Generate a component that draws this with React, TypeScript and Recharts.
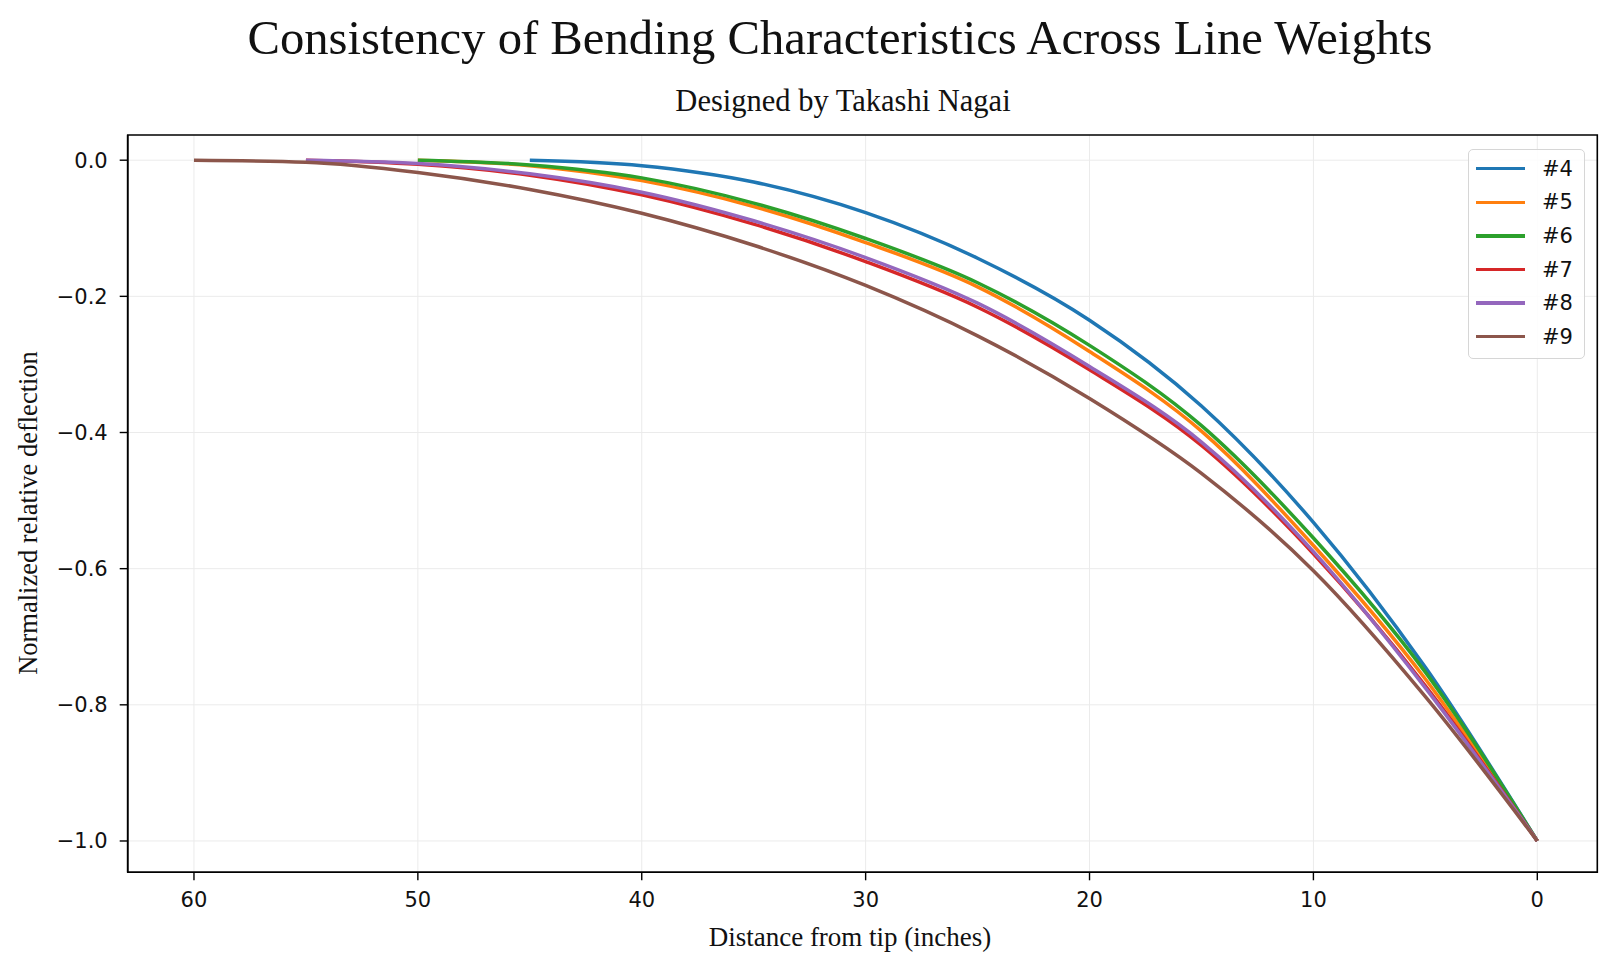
import React from "react";
import { LineChart, Line, XAxis, YAxis, CartesianGrid, Legend, ReferenceArea } from "recharts";

const distances = [60, 55, 50, 45, 40, 35, 30, 25, 20, 15, 10, 5, 0];
const line4 = [null, null, null, 0, -0.008, -0.032, -0.077, -0.144, -0.235, -0.361, -0.532, -0.745, -1];
const line5 = [null, null, 0, -0.008, -0.03, -0.068, -0.121, -0.186, -0.281, -0.398, -0.566, -0.762, -1];
const line6 = [null, null, 0, -0.007, -0.026, -0.063, -0.115, -0.18, -0.272, -0.39, -0.555, -0.752, -1];
const line7 = [null, 0, -0.006, -0.022, -0.051, -0.094, -0.149, -0.216, -0.308, -0.419, -0.578, -0.772, -1];
const line8 = [null, 0, -0.005, -0.02, -0.047, -0.089, -0.143, -0.21, -0.303, -0.414, -0.575, -0.775, -1];
const line9 = [0, -0.003, -0.018, -0.043, -0.078, -0.125, -0.184, -0.258, -0.35, -0.46, -0.603, -0.788, -1];

const seriesNames = ["#4", "#5", "#6", "#7", "#8", "#9"];
const seriesKeys = ["s4", "s5", "s6", "s7", "s8", "s9"];
const seriesValues = [line4, line5, line6, line7, line8, line9];
const seriesColors = ["#1f77b4", "#ff7f0e", "#2ca02c", "#d62728", "#9467bd", "#8c564b"];

const xTicks = [60, 50, 40, 30, 20, 10, 0];
const yTicks = [0, -0.2, -0.4, -0.6, -0.8, -1.0];
const xDomain = [-2.68, 62.96];
const yDomain = [-1.046, 0.037];

const data = distances.map((d, i) => {
  const row: Record<string, number | null> = { d };
  seriesKeys.forEach((k, j) => {
    row[k] = seriesValues[j][i];
  });
  return row;
});

const serif = "'Liberation Serif', 'DejaVu Serif', serif";
const sans = "'DejaVu Sans', sans-serif";

const fmtY = (v: number) => (v === 0 ? "0.0" : "\u2212" + Math.abs(v).toFixed(1));

const LegendBox = (props: any) => {
  const payload = props.payload || [];
  return (
    <div
      style={{
        width: 117,
        height: 210,
        boxSizing: "border-box",
        border: "1px solid #d6d6d6",
        borderRadius: 5,
        background: "rgba(255,255,255,0.85)",
        paddingTop: 2,
      }}
    >
      {payload.map((p: any) => (
        <div key={p.value} style={{ display: "flex", alignItems: "center", height: 33.6 }}>
          <div style={{ width: 49, height: 3.4, background: p.color, marginLeft: 7 }} />
          <span style={{ marginLeft: 17, fontFamily: sans, fontSize: 21, color: "#111" }}>{p.value}</span>
        </div>
      ))}
    </div>
  );
};

export default function App() {
  return (
    <div style={{ position: "absolute", left: 0, top: 0, width: 1619, height: 971, background: "#fff" }}>
      <div
        style={{
          position: "absolute",
          left: 0,
          width: 1680,
          top: 10,
          textAlign: "center",
          fontFamily: serif,
          fontSize: 48.7,
          color: "#111",
          whiteSpace: "nowrap",
        }}
      >
        Consistency of Bending Characteristics Across Line Weights
      </div>
      <div
        style={{
          position: "absolute",
          left: 0,
          width: 1686,
          top: 84,
          textAlign: "center",
          fontFamily: serif,
          fontSize: 30.5,
          color: "#111",
          whiteSpace: "nowrap",
        }}
      >
        Designed by Takashi Nagai
      </div>
      <div
        style={{
          position: "absolute",
          left: 0,
          width: 1700,
          top: 922,
          textAlign: "center",
          fontFamily: serif,
          fontSize: 27,
          color: "#111",
          whiteSpace: "nowrap",
        }}
      >
        Distance from tip (inches)
      </div>
      <div
        style={{
          position: "absolute",
          left: 28,
          top: 513,
          transform: "translate(-50%, -50%) rotate(-90deg)",
          fontFamily: serif,
          fontSize: 26.5,
          color: "#111",
          whiteSpace: "nowrap",
        }}
      >
        Normalized relative deflection
      </div>
      <div style={{ position: "absolute", left: 0, top: 0 }}>
        <LineChart
          width={1619}
          height={971}
          data={data}
          margin={{ top: 135, right: 21.7, bottom: 58.7, left: 47.7 }}
        >
          <CartesianGrid stroke="#ebebeb" strokeWidth={1} horizontalValues={yTicks} verticalValues={xTicks} />
          <ReferenceArea
            x1={xDomain[0]}
            x2={xDomain[1]}
            y1={yDomain[0]}
            y2={yDomain[1]}
            fill="none"
            fillOpacity={0}
            stroke="#000"
            strokeWidth={1.6}
            ifOverflow="visible"
          />
          <XAxis
            dataKey="d"
            type="number"
            reversed
            domain={xDomain}
            ticks={xTicks}
            allowDataOverflow
            height={40}
            tickSize={8}
            tickMargin={12}
            axisLine={{ stroke: "#000", strokeWidth: 1.6 }}
            tickLine={{ stroke: "#000", strokeWidth: 1.4 }}
            tick={{ fill: "#111", fontFamily: sans, fontSize: 21 }}
          />
          <YAxis
            type="number"
            domain={yDomain}
            ticks={yTicks}
            allowDataOverflow
            width={80}
            tickSize={8}
            tickMargin={12}
            tickFormatter={fmtY}
            axisLine={{ stroke: "#000", strokeWidth: 1.6 }}
            tickLine={{ stroke: "#000", strokeWidth: 1.4 }}
            tick={{ fill: "#111", fontFamily: sans, fontSize: 21 }}
          />
          <Legend
            layout="vertical"
            align="center"
            verticalAlign="middle"
            wrapperStyle={{ position: "absolute", left: 1468, top: 149, width: 117, height: 210 }}
            content={LegendBox}
          />
          {seriesKeys.map((k, j) => (
            <Line
              key={k}
              dataKey={k}
              name={seriesNames[j]}
              type="monotone"
              stroke={seriesColors[j]}
              strokeWidth={3.5}
              dot={false}
              activeDot={false}
              isAnimationActive={false}
            />
          ))}
        </LineChart>
      </div>
    </div>
  );
}
